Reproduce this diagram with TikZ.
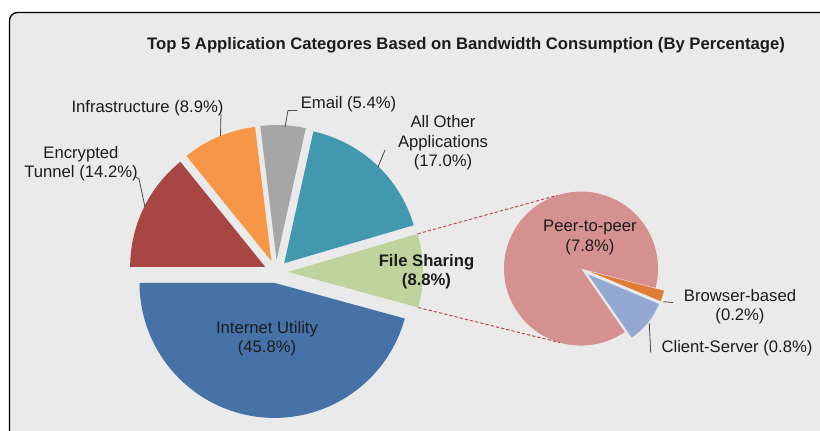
\documentclass[tikz,border=0pt]{standalone}
\usepackage{fontspec}
\setmainfont{Liberation Sans}
\usetikzlibrary{calc}

\definecolor{panel}{HTML}{EAEAEA}
\definecolor{labeltext}{HTML}{1C1C1C}
\definecolor{leadergray}{HTML}{4A4A4A}
\definecolor{encc}{HTML}{A84644}
\definecolor{infc}{HTML}{F79646}
\definecolor{emailc}{HTML}{A6A6A6}
\definecolor{otherc}{HTML}{4198AF}
\definecolor{filec}{HTML}{BFD49C}
\definecolor{inetc}{HTML}{4572A7}
\definecolor{p2pc}{HTML}{D49190}
\definecolor{browc}{HTML}{E07C34}
\definecolor{clientc}{HTML}{93A9D1}
\definecolor{linkc}{HTML}{B04A47}

% wedge: centre, explosion, radius, start angle, end angle, colour
\newcommand\drawwedge[6]{%
  \fill[#6] ($(#1)+({(#4+#5)/2}:#2)$) -- ++(#4:#3)
    arc[start angle=#4, end angle=#5, radius=#3] -- cycle;}

\begin{document}
\begin{tikzpicture}[x=0.75pt, y=0.75pt,
  lbl/.style={font=\fontsize{12.5}{14.5}\selectfont, text=labeltext,
              align=center, inner sep=0pt},
  boldlbl/.style={lbl, font=\fontsize{12.5}{14.5}\selectfont\bfseries},
  leader/.style={draw=leadergray, line width=0.6pt},
  link/.style={draw=linkc, line width=0.7pt, dash pattern=on 2.5pt off 1.5pt}]

\useasboundingbox (0,0) rectangle (820,431);
\clip (0,0) rectangle (820,431);
\fill[white] (0,0) rectangle (820,431);

% chart panel
\filldraw[fill=panel, draw=black, line width=1pt, rounded corners=6pt]
  (9.5,-20) -- (9.5,418.5) -- (840,418.5) -- (840,-20) -- cycle;

% main pie
\coordinate (mc) at (276,159);
\drawwedge{mc}{12}{135}{128.93}{180}{encc}
\drawwedge{mc}{12}{135}{96.92}{128.93}{infc}
\drawwedge{mc}{12}{135}{77.50}{96.92}{emailc}
\drawwedge{mc}{12}{135}{16.36}{77.50}{otherc}
\drawwedge{mc}{12}{135}{-15.29}{16.36}{filec}
\drawwedge{mc}{11}{135}{-180.01}{-15.29}{inetc}

% secondary pie (File Sharing breakdown)
\coordinate (sc) at (581,162.4);
\drawwedge{sc}{0}{77}{-14.5}{304.59}{p2pc}
\drawwedge{sc}{9}{77}{-22.68}{-14.5}{browc}
\drawwedge{sc}{9}{77}{-55.41}{-22.68}{clientc}

% links from File Sharing to its breakdown
\coordinate (fsTop) at ($(mc)+(0.54:12)+(16.36:135)$);
\coordinate (fsBot) at ($(mc)+(0.54:12)+(-15.29:135)$);
\coordinate (spTop) at ($(sc)+(108:77)$);
\coordinate (spBot) at ($(sc)+(254:77)$);
\draw[link] (fsTop) -- (spTop);
\draw[link] (fsBot) -- (spBot);

% title
\node[boldlbl] (title) at (466,386)
  {Top 5 Application Categores Based on Bandwidth Consumption (By Percentage)};

% labels
\node[lbl] (infra) at (147.5,323) {Infrastructure (8.9\%)};
\node[lbl] (email) at (348.5,327) {Email (5.4\%)};
\node[lbl] (other) at (443,288) {All Other\\Applications\\(17.0\%)};
\node[lbl] (enc) at (81,267) {Encrypted\\Tunnel (14.2\%)};
\node[boldlbl] (file) at (426.5,159) {File Sharing\\(8.8\%)};
\node[lbl] (inet) at (267,92) {Internet Utility\\(45.8\%)};
\node[lbl] (p2p) at (590,193.5) {Peer-to-peer\\(7.8\%)};
\node[lbl] (brow) at (740,124.5) {Browser-based\\(0.2\%)};
\node[lbl] (client) at (737,83) {Client-Server (0.8\%)};

% leader lines
\coordinate (infraA) at (221,317);
\coordinate (infraB) at (220.5,295);
\draw[leader] (infraA) -- (infraB);
\coordinate (emailA) at (297,320.5);
\coordinate (emailK) at (288,320.5);
\coordinate (emailB) at (285,304);
\draw[leader] (emailA) -- (emailK) -- (emailB);
\coordinate (otherA) at (385,281);
\coordinate (otherB) at (378,264);
\draw[leader] (otherA) -- (otherB);
\coordinate (encA) at (136,254);
\coordinate (encK) at (139,252);
\coordinate (encB) at (145,224);
\draw[leader] (encA) -- (encK) -- (encB);
\coordinate (browA) at (663.3,129.3);
\coordinate (browB) at (673,128.5);
\draw[leader] (browA) -- (browB);
\coordinate (clientA) at (649.3,107.7);
\coordinate (clientB) at (650.7,78.3);
\draw[leader] (clientA) -- (clientB);

\end{tikzpicture}
\end{document}
